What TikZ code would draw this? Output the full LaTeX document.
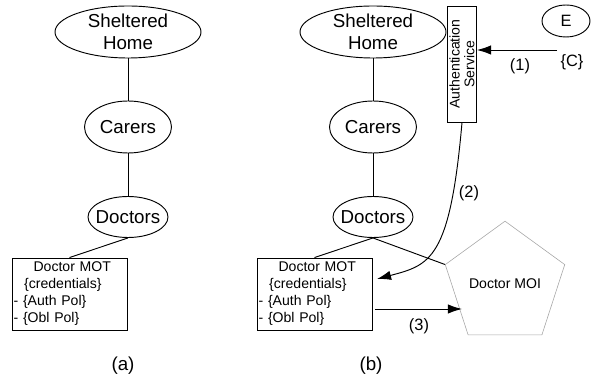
\documentclass[tikz,border=0pt]{standalone}
\usepackage{fontspec}
\setmainfont{Liberation Sans}
\usepackage{tikz}
\usetikzlibrary{arrows.meta, shapes.geometric, positioning}

\begin{document}
\begin{tikzpicture}[x=0.03cm, y=-0.03cm, >={Latex[length=12pt,width=8pt]}, line width=0.8pt,
    ell/.style={ellipse, draw, inner sep=0pt, align=center, font=\fontsize{16}{19}\selectfont},
    motbox/.style={draw, rectangle, minimum width=3.45cm, minimum height=2.16cm,
        inner xsep=0.05cm, text width=3.35cm, align=left, font=\fontsize{12}{14.5}\selectfont},
    lbl/.style={inner sep=1pt, font=\fontsize{14}{17}\selectfont}]
    \useasboundingbox (0,0) rectangle (591,376);

    % 1. Hierarchy of panel (a)
    \node[ell, minimum width=4.38cm, minimum height=1.56cm] (shA) at (128,32) {Sheltered\\Home};
    \node[ell, minimum width=2.61cm, minimum height=1.56cm] (carA) at (128,127) {Carers};
    \node[ell, minimum width=2.4cm, minimum height=1.23cm, inner xsep=-3.5pt] (docA) at (128,217) {Doctors};
    \node[motbox] (motA) at (69.5,294)
        {\hspace*{17pt}Doctor MOT\\\hspace*{9pt}\{credentials\}\\- \{Auth Pol\}\\- \{Obl Pol\}};
    \draw (shA) -- (carA);
    \draw (carA) -- (docA);
    \draw (docA.south) -- (motA.north);

    % 2. Hierarchy of panel (b)
    \node[ell, minimum width=4.38cm, minimum height=1.56cm] (shB) at (373,32) {Sheltered\\Home};
    \node[ell, minimum width=2.61cm, minimum height=1.56cm] (carB) at (373,127) {Carers};
    \node[ell, minimum width=2.4cm, minimum height=1.23cm, inner xsep=-3.5pt] (docB) at (373,217) {Doctors};
    \node[motbox] (motB) at (314.5,294)
        {\hspace*{17pt}Doctor MOT\\\hspace*{9pt}\{credentials\}\\- \{Auth Pol\}\\- \{Obl Pol\}};
    \draw (shB) -- (carB);
    \draw (carB) -- (docB);
    \draw (docB.south) -- (motB.north);

    % 3. Authentication service, E and Doctor MOI
    \node[draw, rotate=90, minimum width=3.48cm, minimum height=0.87cm, inner xsep=1pt, inner ysep=0pt,
        align=center, font=\fontsize{12}{12.5}\selectfont] (auth) at (462,64) {Authentication\\Service};
    \node[ell, minimum width=1.44cm, minimum height=0.96cm, font=\fontsize{14}{17}\selectfont] (E) at (566,21) {E};
    \node[regular polygon, regular polygon sides=5, minimum size=2.82cm, inner sep=0pt,
        draw=gray!70, line width=0.5pt, font=\fontsize{12}{14}\selectfont] (moi) at (505,284) {Doctor MOI};
    \draw (docB.south) -- (moi.corner 2);

    % 4. Steps (1), (2), (3)
    \coordinate (c1) at (557,50);
    \draw[->] (c1) -- (c1 -| auth.south);
    \coordinate (c2) at (377,279);
    \draw[->] (auth.west) .. controls (450,260) and (430,265) .. (c2);
    \coordinate (c3) at (462,309);
    \draw[->] ([xshift=2pt]motB.east |- c3) -- (c3);
    \node[lbl] (l1) at (520,66) {(1)};
    \node[lbl] (lC) at (572,62) {\{C\}};
    \node[lbl] (l2) at (469,193) {(2)};
    \node[lbl] (l3) at (419,326) {(3)};

    % 5. Panel captions
    \node[font=\fontsize{16}{19}\selectfont] (capA) at (123,366) {(a)};
    \node[font=\fontsize{16}{19}\selectfont] (capB) at (371,366) {(b)};
\end{tikzpicture}
\end{document}
